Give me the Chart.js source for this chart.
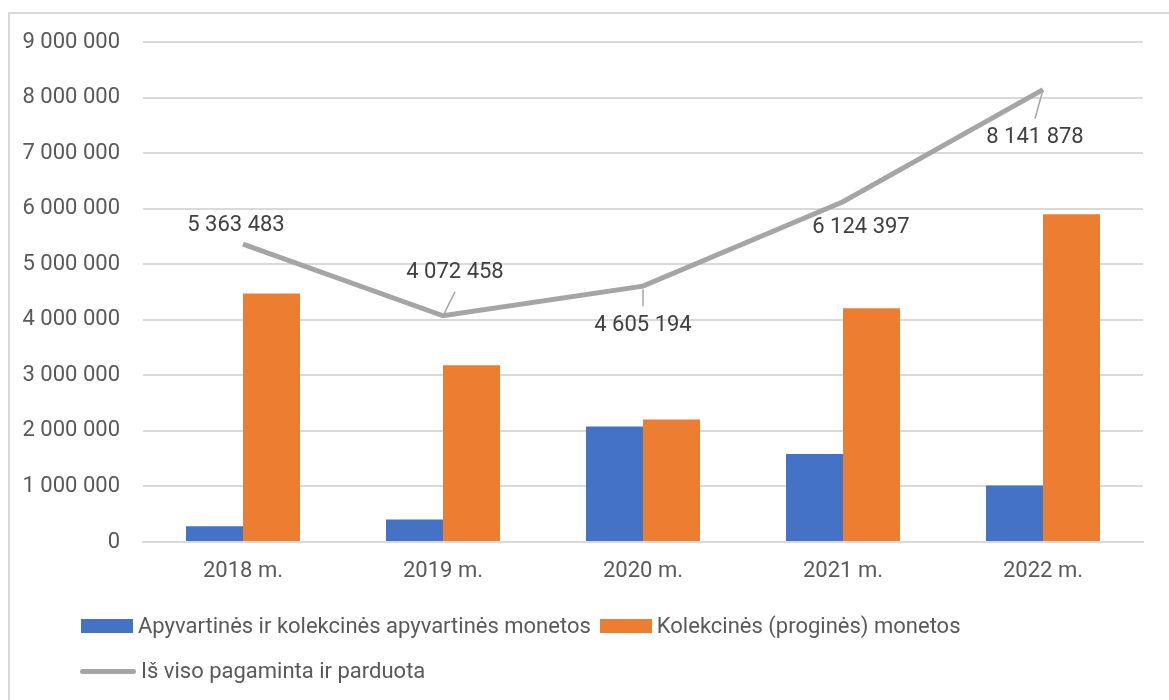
<!DOCTYPE html>
<html>
<head>
<meta charset="utf-8">
<script src="https://cdn.jsdelivr.net/npm/chart.js@4/dist/chart.umd.min.js"></script>
<style>
  body { margin: 0; background: #fff; font-family: Roboto, sans-serif; }
  #wrap { position: relative; width: 1169px; height: 700px; overflow: hidden; }
  #frame { position: absolute; left: 8px; top: 12px; width: 1300px; height: 900px; border: 2px solid #d9d9d9; }
  canvas { position: absolute; left: 0; top: 0; }
  #legend { position: absolute; left: 81px; top: 613px; color: #595959; font-size: 22px; line-height: 26px; }
  .row { display: flex; column-gap: 9px; margin-bottom: 19px; }
  .item { display: flex; align-items: center; }
  .sym { margin-right: 5px; }
</style>
</head>
<body>
<div id="wrap">
  <div id="frame"></div>
  <canvas id="chart" width="1169" height="700"></canvas>
  <div id="legend"></div>
</div>
<script>
// Data
const years = ['2018 m.', '2019 m.', '2020 m.', '2021 m.', '2022 m.'];
const circulation = [283000, 403000, 2077000, 1584000, 1015000];
const collector = [4472000, 3181000, 2203000, 4207000, 5899000];
const total = [5363483, 4072458, 4605194, 6124397, 8141878];

const fmt = v => String(v).replace(/\B(?=(\d{3})+(?!\d))/g, ' ');

// label placement relative to the point, [dx, dy, leader line]
const labelPos = [[-7, -19, false], [12, -43, true], [0, 39, true], [18, 26, false], [-8, 48, true]];

const dataLabels = {
  id: 'dataLabels',
  afterDatasetsDraw(chart) {
    const ctx = chart.ctx;
    const meta = chart.getDatasetMeta(0);
    ctx.save();
    ctx.font = '22px Roboto';
    ctx.textAlign = 'center';
    ctx.textBaseline = 'middle';
    meta.data.forEach((pt, i) => {
      const [dx, dy, leader] = labelPos[i];
      const lx = pt.x + dx, ly = pt.y + dy;
      if (leader) {
        const ex = lx, ey = ly - Math.sign(dy) * 19;
        const len = Math.hypot(ex - pt.x, ey - pt.y);
        ctx.strokeStyle = '#a5a5a5';
        ctx.lineWidth = 1.5;
        ctx.beginPath();
        ctx.moveTo(pt.x + (ex - pt.x) / len * 3, pt.y + (ey - pt.y) / len * 3);
        ctx.lineTo(ex, ey);
        ctx.stroke();
      }
      ctx.fillStyle = '#404040';
      ctx.fillText(fmt(chart.data.datasets[0].data[i]), lx, ly);
    });
    ctx.restore();
  }
};

const chart = new Chart(document.getElementById('chart'), {
  type: 'bar',
  data: {
    labels: years,
    datasets: [{
      type: 'line',
      label: 'Iš viso pagaminta ir parduota',
      data: total,
      borderColor: '#a5a5a5',
      backgroundColor: '#a5a5a5',
      borderWidth: 5,
      pointRadius: 0,
      tension: 0,
      order: 0
    }, {
      label: 'Apyvartinės ir kolekcinės apyvartinės monetos',
      data: circulation,
      backgroundColor: '#4472c4',
      order: 1
    }, {
      label: 'Kolekcinės (proginės) monetos',
      data: collector,
      backgroundColor: '#ed7d31',
      order: 1
    }]
  },
  options: {
    responsive: false,
    animation: false,
    layout: { padding: { top: 42, right: 26, left: 0, bottom: 0 } },
    datasets: { bar: { categoryPercentage: 0.57, barPercentage: 1.0 } },
    plugins: { legend: { display: false }, tooltip: { enabled: false } },
    scales: {
      x: {
        grid: { display: false, drawTicks: false },
        border: { color: '#d9d9d9', width: 2 },
        ticks: { color: '#595959', font: { family: 'Roboto', size: 22 }, padding: 16 },
        afterFit(scale) { scale.height = 158; }
      },
      y: {
        min: 0,
        max: 9000000,
        grid: { color: '#d9d9d9', lineWidth: 2, drawTicks: false },
        border: { display: false },
        ticks: {
          stepSize: 1000000,
          color: '#595959',
          font: { family: 'Roboto', size: 22 },
          padding: 23,
          callback: v => fmt(v)
        },
        afterFit(scale) { scale.width = 143; }
      }
    }
  },
  plugins: [dataLabels]
});

// legend in Excel layout: two bar series on the first row, the line below
const legend = document.getElementById('legend');
[[1, 2], [0]].forEach(group => {
  const row = document.createElement('div');
  row.className = 'row';
  group.forEach(i => {
    const ds = chart.data.datasets[i];
    const item = document.createElement('div');
    item.className = 'item';
    const sym = document.createElement('span');
    sym.className = 'sym';
    if (ds.type === 'line') {
      sym.style.cssText = 'display:inline-block;width:56px;height:5px;border-radius:3px;background:' + ds.borderColor;
      item.style.marginLeft = '-1px';
    } else {
      sym.style.cssText = 'display:inline-block;width:52px;height:14px;background:' + ds.backgroundColor;
    }
    item.appendChild(sym);
    item.appendChild(document.createTextNode(ds.label));
    row.appendChild(item);
  });
  legend.appendChild(row);
});
</script>
</body>
</html>
